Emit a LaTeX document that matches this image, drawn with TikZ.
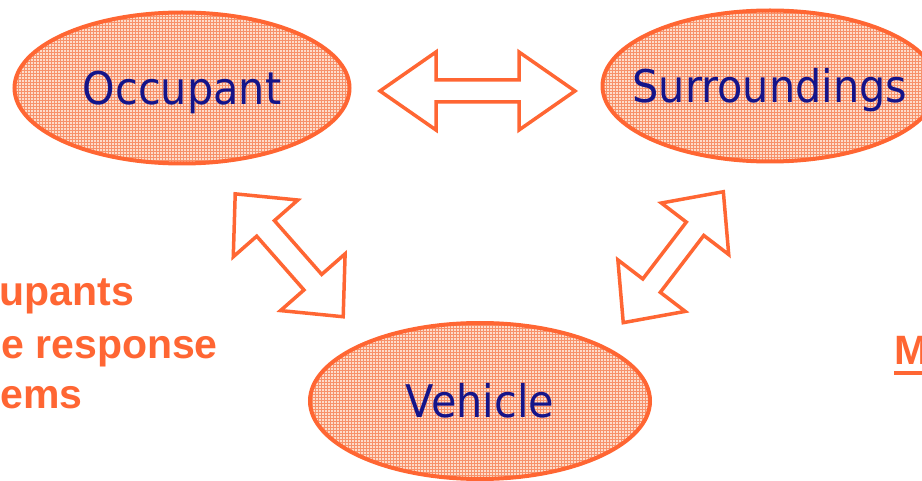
\documentclass[tikz,border=0pt]{standalone}
\usepackage{fontspec}
\usetikzlibrary{shapes.geometric,patterns}
\newfontfamily\ellfont[FakeStretch=0.92]{DejaVu Sans}
\newfontfamily\labfont{Liberation Sans}
\definecolor{orangeline}{HTML}{FF6633}
\definecolor{navytext}{HTML}{14148A}
\definecolor{ellfill}{HTML}{FDDCCB}
\definecolor{ellgrid}{HTML}{F7916A}
% keep the ellipse size from the minimum sizes only
\newcommand{\elltext}[1]{\makebox[0pt][c]{#1}}
\begin{document}
\begin{tikzpicture}
  [
    x=1pt, y=-1pt,
    ell/.style={
      ellipse,
      draw=orangeline,
      line width=4pt,
      preaction={fill=ellfill},
      preaction={pattern=grid, pattern color=ellgrid},
      inner sep=0pt,
      text=navytext,
      font=\ellfont\fontsize{45}{54}\selectfont,
      text height=33pt,
      text depth=0pt
    },
    blockarrow/.style={
      draw=orangeline,
      fill=white,
      line width=3.5pt,
      line join=miter
    },
    lab/.style={
      text=orangeline,
      font=\labfont\bfseries\fontsize{41}{49}\selectfont,
      inner sep=0pt
    }
  ]
  \useasboundingbox (0,0) rectangle (922,481);

  % ellipses
  \node [ell, minimum width=335pt, minimum height=151pt] (occ) at (182,88) {\elltext{Occupant}};
  \node [ell, minimum width=335pt, minimum height=151pt] (sur) at (770,86) {\elltext{Surroundings}};
  \node [ell, minimum width=340pt, minimum height=156pt] (veh) at (480,401) {\elltext{Vehicle}};

  % double block arrows: centre x/centre y/angle/half length/head length/head half/shaft half
  \foreach \cx/\cy/\ang/\hl/\hd/\hw/\sw in {477.5/91/0/97.5/56/39/11,
                                           289.2/255.3/-48.7/81.8/46/43/11.8,
                                           673.3/257.2/52.6/82.4/46.6/42.4/11} {
    \begin{scope}[shift={(\cx,\cy)}, rotate=\ang]
      \draw [blockarrow] (-\hl,0) -- (-\hl+\hd,\hw) -- (-\hl+\hd,\sw) -- (\hl-\hd,\sw)
        -- (\hl-\hd,\hw) -- (\hl,0) -- (\hl-\hd,-\hw) -- (\hl-\hd,-\sw)
        -- (-\hl+\hd,-\sw) -- (-\hl+\hd,-\hw) -- cycle;
    \end{scope}
  }

  % side labels
  \node [lab, anchor=base east] (lab1) at (134,306) {upants};
  \node [lab, anchor=base east] (lab2) at (218,359) {e response};
  \node [lab, anchor=base east] (lab3) at (83,409) {ems};
  \node [lab, anchor=base west] (mlab) at (894,365) {M};
  \draw [orangeline, line width=4pt] ([yshift=-8pt]mlab.base west) -- ([yshift=-8pt]mlab.base east);
\end{tikzpicture}
\end{document}
